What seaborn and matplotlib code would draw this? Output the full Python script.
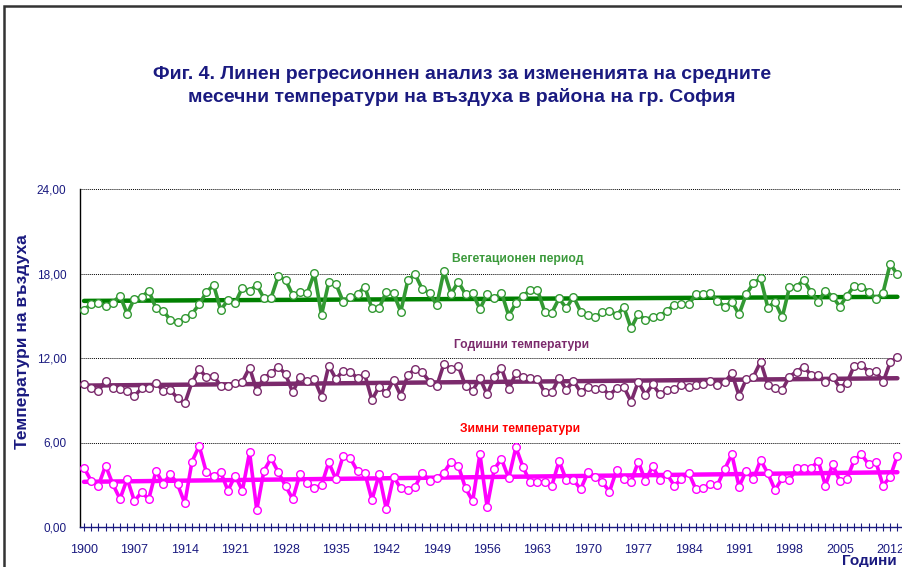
import matplotlib
matplotlib.use("Agg")
import matplotlib.pyplot as plt
from matplotlib.ticker import MultipleLocator, FuncFormatter
import numpy as np
import pandas as pd
import seaborn as sns

years = list(range(1900, 2014))

vegetation = [
    15.41, 15.84, 15.93, 15.70, 15.93, 16.43, 15.13, 16.22, 16.31, 16.78,
    15.53, 15.36, 14.70, 14.54, 14.82, 15.13, 15.81, 16.67, 17.19, 15.41,
    16.12, 15.89, 17.00, 16.76, 17.19, 16.24, 16.29, 17.83, 17.54, 16.48,
    16.67, 16.60, 18.02, 15.06, 17.38, 17.26, 16.00, 16.31, 16.52, 17.07,
    15.53, 15.53, 16.71, 16.60, 15.29, 17.54, 17.94, 16.88, 16.64, 15.74,
    18.18, 16.55, 17.42, 16.52, 16.60, 15.48, 16.52, 16.24, 16.64, 15.01,
    15.89, 16.41, 16.83, 16.83, 15.29, 15.22, 16.24, 15.53, 16.36, 15.29,
    15.06, 14.89, 15.25, 15.36, 15.06, 15.60, 14.11, 15.13, 14.70, 14.94,
    14.99, 15.36, 15.77, 15.81, 15.81, 16.52, 16.55, 16.64, 16.07, 15.65,
    16.00, 15.10, 16.52, 17.31, 17.66, 15.58, 16.00, 14.89, 17.02, 17.07,
    17.54, 16.67, 16.00, 16.78, 16.36, 15.65, 16.43, 17.12, 17.07, 16.71,
    16.19, 16.64, 18.68, 17.94,
]

annual = [
    10.13, 9.85, 9.68, 10.39, 9.85, 9.78, 9.68, 9.30, 9.85, 9.85,
    10.25, 9.66, 9.73, 9.14, 8.78, 10.27, 11.22, 10.63, 10.75, 10.01,
    10.01, 10.25, 10.32, 11.32, 9.68, 10.61, 10.91, 11.39, 10.84, 9.56,
    10.68, 10.39, 10.49, 9.26, 11.46, 10.51, 11.10, 11.03, 10.56, 10.84,
    9.02, 9.97, 9.49, 10.44, 9.33, 10.80, 11.22, 10.98, 10.32, 10.01,
    11.58, 11.22, 11.43, 10.01, 9.68, 10.56, 9.42, 10.63, 11.27, 9.80,
    10.91, 10.68, 10.56, 10.51, 9.56, 9.56, 10.61, 9.73, 10.39, 9.56,
    9.97, 9.78, 9.85, 9.38, 9.85, 9.94, 8.90, 10.32, 9.38, 10.13,
    9.42, 9.73, 9.78, 10.09, 9.92, 10.09, 10.13, 10.39, 10.09, 10.27,
    10.91, 9.33, 10.49, 10.68, 11.74, 10.09, 9.85, 9.73, 10.68, 11.03,
    11.39, 10.80, 10.80, 10.32, 10.68, 9.90, 10.25, 11.46, 11.51, 11.03,
    11.08, 10.27, 11.70, 12.05,
]

winter = [
    4.21, 3.27, 2.94, 4.36, 3.05, 1.99, 3.41, 1.85, 2.46, 1.99,
    3.98, 3.05, 3.76, 3.03, 1.68, 4.64, 5.75, 3.88, 3.62, 3.88,
    2.58, 3.65, 2.58, 5.30, 1.21, 4.00, 4.88, 3.88, 2.91, 1.99,
    3.74, 3.15, 2.75, 2.98, 4.59, 3.39, 5.04, 4.88, 3.96, 3.86,
    1.92, 3.74, 1.25, 3.57, 2.75, 2.63, 2.86, 3.86, 3.29, 3.46,
    3.86, 4.64, 4.36, 2.75, 1.85, 5.18, 1.44, 4.12, 4.83, 3.46,
    5.66, 4.24, 3.17, 3.20, 3.20, 2.94, 4.69, 3.34, 3.34, 2.68,
    3.88, 3.57, 3.20, 2.51, 4.05, 3.42, 3.20, 4.64, 3.27, 4.33,
    3.34, 3.74, 2.94, 3.39, 3.86, 2.68, 2.75, 3.03, 2.98, 4.10,
    5.16, 2.86, 4.00, 3.41, 4.76, 3.81, 2.63, 3.46, 3.34, 4.17,
    4.17, 4.17, 4.69, 2.94, 4.45, 3.27, 3.41, 4.76, 5.16, 4.45,
    4.64, 2.94, 3.57, 5.07,
]

series_names = ["Вегетационен период", "Годишни температури", "Зимни температури"]
title = ("Фиг. 4. Линен регресионнен анализ за изменениата на средните\n"
         "месечни температури на въздуха в района на гр. София")
title = title.replace("изменениата", "изменениата".replace("иата", "ията"))

navy = "#1a1a80"
line_colors = ["#339933", "#7b2a6c", "#ff00ff"]
trend_colors = ["#008000", "#7b2a6c", "#ff00ff"]
label_colors = ["#3c9a3c", "#7b2a6c", "#ff0000"]
label_pos = [(1960.3, 19.0), (1960.8, 12.9), (1960.6, 6.95)]

df = pd.DataFrame({"year": years, series_names[0]: vegetation,
                   series_names[1]: annual, series_names[2]: winter})

sns.set_style("white")
plt.rcParams["font.family"] = ["Liberation Sans", "DejaVu Sans"]

fig = plt.figure(figsize=(9.03, 5.67), dpi=100)
ax = fig.add_axes([80.4 / 903, 1 - 527 / 567, (901 - 80.4) / 903, (527 - 189) / 567])

for name, lc, tc in zip(series_names, line_colors, trend_colors):
    sns.regplot(data=df, x="year", y=name, scatter=False, ci=None, ax=ax,
                truncate=True, line_kws=dict(color=tc, lw=3.2, zorder=2))
    sns.lineplot(data=df, x="year", y=name, ax=ax, color=lc, lw=2.6,
                 marker="o", markersize=5.5, markerfacecolor="white",
                 markeredgecolor=lc, markeredgewidth=1.0, zorder=3)

for name, c, (xp, yp) in zip(series_names, label_colors, label_pos):
    ax.text(xp, yp, name, color=c, fontsize=8.7, fontweight="bold",
            ha="center", va="center")

ax.set_xlim(1899.5, 2013.5)
ax.set_ylim(0, 24)
ax.yaxis.set_major_locator(MultipleLocator(6))
ax.yaxis.set_major_formatter(FuncFormatter(lambda v, p: f"{v:.2f}".replace(".", ",")))
ax.set_xticks(list(range(1900, 2014, 7)))
ax.xaxis.set_minor_locator(MultipleLocator(1))
ax.grid(axis="y", color="black", ls=(0, (1, 1)), lw=0.7)
ax.grid(axis="x", visible=False)

for s in ["top", "right"]:
    ax.spines[s].set_visible(False)
ax.spines["left"].set_color("black")
ax.spines["left"].set_linewidth(1.0)
ax.spines["bottom"].set_color(navy)
ax.spines["bottom"].set_linewidth(1.0)

ax.tick_params(axis="x", which="both", direction="inout", length=6, width=0.8,
               color=navy, labelcolor=navy, labelsize=9, pad=9, bottom=True)
ax.tick_params(axis="y", which="both", length=0, labelcolor=navy, labelsize=8.5, pad=10)

ax.set_xlabel("")
ax.set_ylabel("")
fig.text(23 / 903, 1 - 342 / 567, "Температури на въздуха", color=navy,
         fontsize=12.5, fontweight="bold", rotation=90, ha="center", va="center")
fig.text(897 / 903, 1 - 561 / 567, "Години", color=navy, fontsize=11,
         fontweight="bold", ha="right", va="center")

fig.text(462 / 903, 1 - 86 / 567, title, color=navy, fontsize=14, fontweight="bold",
         ha="center", va="center", linespacing=1.3)

fig.add_artist(plt.Rectangle((4.5 / 903, -0.1), 1.2, 1.1 - 6 / 567,
                             transform=fig.transFigure, fill=False,
                             ec="#333333", lw=1.8))

fig.savefig("out.png", dpi=100)
